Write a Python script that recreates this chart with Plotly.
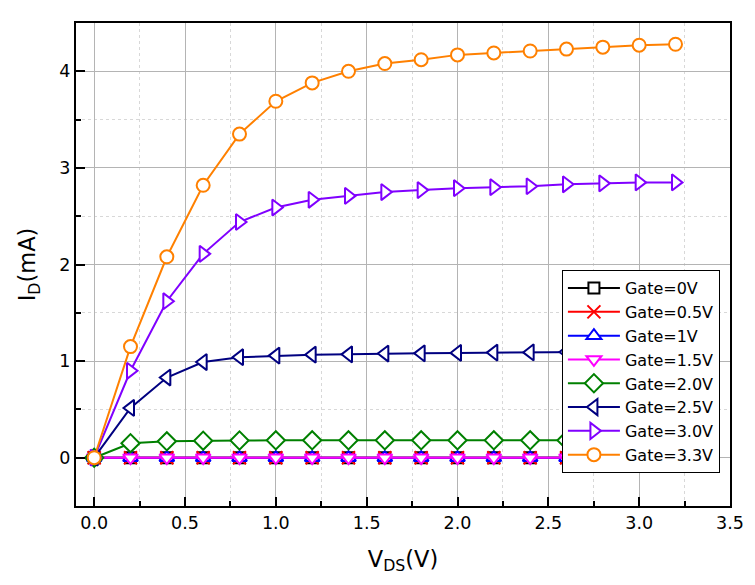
import plotly.graph_objects as go

vds = [0.0, 0.2, 0.4, 0.6, 0.8, 1.0, 1.2, 1.4, 1.6, 1.8, 2.0, 2.2, 2.4, 2.6, 2.8, 3.0, 3.2]

gate_0v = [0]*17
gate_05v = [0]*17
gate_1v = [0]*17
gate_15v = [0]*17
gate_20v = [0, 0.15, 0.17, 0.176, 0.178, 0.18, 0.18, 0.18, 0.18, 0.18, 0.18, 0.18, 0.18, 0.18, 0.18, 0.18, 0.18]
gate_25v = [0, 0.515, 0.83, 0.99, 1.04, 1.057, 1.067, 1.07, 1.078, 1.08, 1.085, 1.088, 1.09, 1.095, 1.098, 1.10, 1.10]
gate_30v = [0, 0.90, 1.62, 2.11, 2.44, 2.59, 2.67, 2.71, 2.75, 2.77, 2.79, 2.80, 2.81, 2.83, 2.84, 2.85, 2.85]
gate_33v = [0, 1.15, 2.08, 2.82, 3.35, 3.69, 3.88, 4.0, 4.08, 4.12, 4.17, 4.19, 4.21, 4.23, 4.25, 4.27, 4.28]

series_names = ["Gate=0V", "Gate=0.5V", "Gate=1V", "Gate=1.5V", "Gate=2.0V", "Gate=2.5V", "Gate=3.0V", "Gate=3.3V"]
series_vals = [gate_0v, gate_05v, gate_1v, gate_15v, gate_20v, gate_25v, gate_30v, gate_33v]
colors = ["#000000", "#ff0000", "#0000ff", "#ff00ff", "#008000", "#000080", "#8000ff", "#ff8000"]
symbols = ["square", "x-thin-open", "triangle-up", "triangle-down", "diamond",
           "triangle-left", "triangle-right", "circle"]
sizes = [11, 13, 13, 13, 14, 14, 14, 13]

fig = go.Figure()
for name, vals, c, s, sz in zip(series_names, series_vals, colors, symbols, sizes):
    fig.add_trace(go.Scatter(
        x=vds, y=vals, name=name, mode="lines+markers",
        line=dict(color=c, width=2),
        marker=dict(symbol=s, size=sz,
                    color=c if s == "x-thin-open" else "white",
                    line=dict(color=c, width=2)),
    ))

font_family = "DejaVu Sans, Liberation Sans, Arial, sans-serif"
fig.update_layout(
    width=739, height=569,
    margin=dict(l=68, r=17, t=15, b=71),
    plot_bgcolor="white", paper_bgcolor="white",
    font=dict(family=font_family, color="black"),
    showlegend=True,
    legend=dict(x=0.743, y=0.068, xanchor="left", yanchor="bottom",
                bgcolor="white", bordercolor="black", borderwidth=1,
                font=dict(size=16, family=font_family), tracegroupgap=0,
                itemwidth=52),
    xaxis=dict(
        range=[-0.1, 3.5], tick0=0, dtick=0.5, tickformat=".1f",
        automargin=False,
        showline=True, linecolor="black", linewidth=2, mirror=True,
        ticks="inside", ticklen=9, tickwidth=2, tickcolor="black",
        showgrid=True, gridcolor="#b4b4b4", gridwidth=1,
        zeroline=False,
        tickfont=dict(size=17.5),
        title=dict(text="V<sub>DS</sub>(V)", font=dict(size=22.5), standoff=19),
        minor=dict(dtick=0.25, ticklen=5, tickwidth=1.5, tickcolor="black", ticks="inside",
                   showgrid=True, gridcolor="#d8d8d8", griddash="dot", gridwidth=1),
    ),
    yaxis=dict(
        range=[-0.5, 4.5], tick0=0, dtick=1,
        automargin=False,
        showline=True, linecolor="black", linewidth=2, mirror=True,
        ticks="inside", ticklen=9, tickwidth=2, tickcolor="black",
        showgrid=True, gridcolor="#b4b4b4", gridwidth=1,
        zeroline=False,
        tickfont=dict(size=17.5),
        title=dict(text="I<sub>D</sub>(mA)", font=dict(size=22.5), standoff=17),
        minor=dict(dtick=0.5, ticklen=5, tickwidth=1.5, tickcolor="black", ticks="inside",
                   showgrid=True, gridcolor="#d8d8d8", griddash="dot", gridwidth=1),
    ),
)

fig.write_html("out.html")
